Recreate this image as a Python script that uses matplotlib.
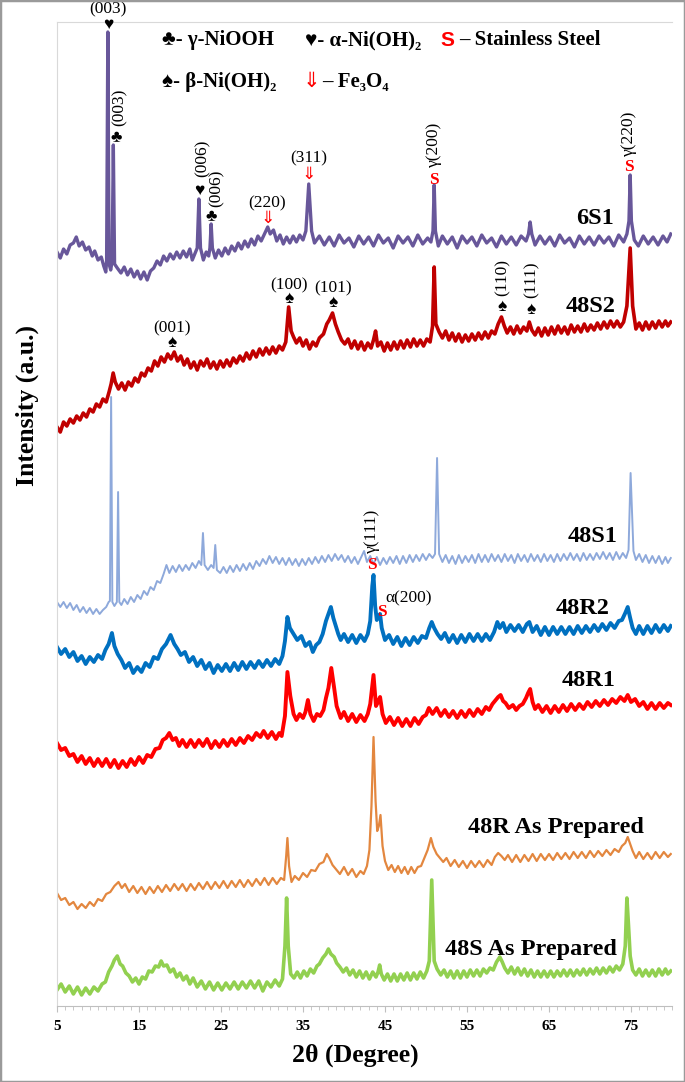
import matplotlib.pyplot as plt
from matplotlib.patches import Rectangle
from matplotlib.ticker import MultipleLocator

plt.rcParams['font.family'] = ['Liberation Serif', 'DejaVu Sans']

# (2theta in deg, stacked intensity in a.u.)
pts_6s1 = [
    (5.0, 754), (5.4, 748), (5.8, 757), (6.2, 752), (6.6, 761), (7.0, 763), (7.35, 769), (7.7, 760), (8.1, 764),
    (8.5, 756), (8.9, 759), (9.3, 750), (9.6, 755), (10.0, 746), (10.4, 749), (10.7, 740), (10.95, 734),
    (11.05, 745), (11.2, 974), (11.35, 742), (11.55, 736), (11.72, 745), (11.87, 861), (12.02, 742),
    (12.35, 738), (12.8, 733), (13.2, 739), (13.6, 731), (14.0, 737), (14.4, 729), (14.8, 735), (15.2, 727),
    (15.6, 734), (16.0, 726), (16.4, 735), (16.8, 738), (17.2, 745), (17.6, 741), (18.0, 750), (18.4, 745),
    (18.8, 752), (19.2, 747), (19.6, 754), (20.0, 748), (20.4, 755), (20.8, 749), (21.2, 757), (21.5, 746),
    (21.8, 752), (22.1, 758), (22.3, 807), (22.5, 758), (22.85, 746), (23.2, 754), (23.5, 750), (23.65, 758),
    (23.8, 782), (23.95, 758), (24.3, 748), (24.7, 756), (25.1, 750), (25.5, 758), (25.9, 752), (26.3, 760),
    (26.7, 755), (27.1, 763), (27.5, 757), (27.9, 765), (28.3, 759), (28.7, 767), (29.1, 761), (29.5, 770),
    (29.9, 765), (30.3, 772), (30.7, 779), (31.0, 772), (31.4, 776), (31.8, 765), (32.2, 771), (32.6, 762),
    (33.0, 769), (33.4, 763), (33.8, 770), (34.2, 764), (34.6, 771), (35.0, 766), (35.35, 775), (35.7, 822),
    (36.05, 775), (36.4, 763), (37.0, 770), (37.6, 761), (38.2, 769), (38.8, 760), (39.4, 771), (40.0, 763),
    (40.6, 768), (41.2, 759), (41.8, 770), (42.4, 762), (43.0, 769), (43.6, 760), (44.2, 771), (44.8, 763),
    (45.4, 768), (46.0, 758), (46.6, 770), (47.2, 763), (47.8, 769), (48.4, 760), (49.0, 771), (49.6, 762),
    (50.2, 768), (50.6, 764), (50.85, 775), (51.0, 821), (51.15, 775), (51.5, 760), (52.0, 770), (52.6, 762),
    (53.2, 769), (53.8, 758), (54.4, 770), (55.0, 763), (55.6, 769), (56.2, 760), (56.8, 771), (57.4, 763),
    (58.0, 768), (58.6, 759), (59.2, 770), (59.8, 762), (60.4, 769), (61.0, 761), (61.6, 770), (62.2, 765),
    (62.5, 772), (62.7, 784), (62.9, 772), (63.3, 761), (63.9, 770), (64.5, 762), (65.1, 769), (65.7, 760),
    (66.3, 771), (66.9, 763), (67.5, 768), (68.1, 759), (68.7, 770), (69.3, 762), (69.9, 769), (70.5, 761),
    (71.1, 770), (71.7, 763), (72.3, 769), (72.9, 760), (73.5, 771), (74.1, 764), (74.5, 772), (74.75, 785),
    (74.9, 831), (75.05, 785), (75.4, 766), (75.9, 760), (76.5, 770), (77.1, 762), (77.7, 769), (78.3, 761),
    (78.9, 770), (79.4, 764), (79.85, 772)]

pts_48s2 = [
    (5.0, 579), (5.4, 574), (5.8, 584), (6.2, 580), (6.6, 587), (7.0, 583), (7.4, 590), (7.8, 586), (8.2, 593),
    (8.6, 589), (9.0, 597), (9.4, 594), (9.8, 602), (10.2, 599), (10.6, 607), (11.0, 604), (11.35, 614),
    (11.6, 622), (11.85, 633), (12.1, 624), (12.5, 617), (12.9, 623), (13.3, 616), (13.7, 624), (14.1, 620),
    (14.5, 628), (14.9, 624), (15.3, 633), (15.7, 630), (16.1, 638), (16.5, 635), (16.9, 645), (17.3, 640),
    (17.7, 649), (18.1, 644), (18.5, 652), (18.9, 647), (19.3, 654), (19.7, 645), (20.1, 650), (20.5, 641),
    (20.9, 647), (21.3, 638), (21.7, 644), (22.1, 636), (22.5, 645), (22.9, 640), (23.3, 647), (23.7, 638),
    (24.1, 644), (24.5, 637), (24.9, 645), (25.3, 639), (25.7, 646), (26.1, 640), (26.5, 648), (26.9, 643),
    (27.3, 650), (27.7, 645), (28.1, 653), (28.5, 647), (28.9, 655), (29.3, 649), (29.7, 657), (30.1, 651),
    (30.5, 658), (30.9, 652), (31.3, 659), (31.7, 653), (32.1, 660), (32.5, 656), (32.9, 664), (33.25, 699),
    (33.55, 675), (33.85, 669), (34.2, 663), (34.6, 668), (35.0, 660), (35.4, 666), (35.8, 657), (36.2, 664),
    (36.6, 660), (37.0, 668), (37.5, 672), (37.9, 682), (38.2, 686), (38.6, 693), (38.95, 682), (39.3, 674),
    (39.7, 666), (40.1, 662), (40.5, 667), (40.9, 658), (41.3, 665), (41.7, 657), (42.1, 664), (42.5, 656),
    (42.9, 663), (43.3, 658), (43.6, 666), (43.85, 675), (44.1, 660), (44.5, 664), (44.9, 655), (45.3, 663),
    (45.7, 656), (46.1, 664), (46.5, 657), (46.9, 665), (47.3, 658), (47.7, 666), (48.1, 659), (48.5, 667),
    (48.9, 660), (49.3, 666), (49.7, 660), (50.1, 667), (50.5, 664), (50.8, 680), (51.0, 739), (51.2, 682),
    (51.6, 674), (52.0, 668), (52.4, 675), (52.8, 666), (53.2, 673), (53.6, 665), (54.0, 672), (54.4, 664),
    (54.8, 671), (55.2, 665), (55.6, 672), (56.0, 666), (56.4, 673), (56.8, 667), (57.2, 674), (57.6, 668),
    (58.0, 675), (58.4, 672), (58.8, 682), (59.2, 689), (59.55, 680), (59.9, 673), (60.3, 679), (60.7, 672),
    (61.1, 680), (61.5, 673), (61.9, 679), (62.3, 675), (62.6, 684), (62.9, 676), (63.3, 671), (63.7, 678),
    (64.1, 670), (64.5, 678), (64.9, 671), (65.3, 679), (65.7, 672), (66.1, 680), (66.5, 673), (66.9, 679),
    (67.3, 672), (67.7, 681), (68.1, 674), (68.5, 680), (68.9, 674), (69.3, 682), (69.7, 675), (70.1, 681),
    (70.5, 676), (70.9, 683), (71.3, 677), (71.7, 684), (72.1, 678), (72.5, 685), (72.9, 679), (73.3, 685),
    (73.7, 679), (74.1, 684), (74.5, 700), (74.9, 758), (75.2, 700), (75.6, 677), (76.0, 683), (76.4, 676),
    (76.8, 684), (77.2, 677), (77.6, 684), (78.0, 678), (78.4, 685), (78.8, 679), (79.2, 685), (79.5, 680),
    (79.85, 684)]

pts_48s1 = [
    (5.0, 404), (5.4, 399), (5.8, 404), (6.2, 398), (6.6, 403), (7.0, 396), (7.4, 401), (7.8, 394), (8.2, 399),
    (8.6, 393), (9.0, 398), (9.4, 392), (9.8, 397), (10.2, 392), (10.6, 396), (11.0, 399), (11.3, 404),
    (11.45, 405), (11.6, 609), (11.75, 404), (12.0, 400), (12.3, 404), (12.45, 514), (12.6, 404), (12.85, 401),
    (13.2, 407), (13.6, 402), (14.0, 409), (14.4, 404), (14.8, 411), (15.2, 407), (15.6, 415), (16.0, 411),
    (16.4, 419), (16.8, 416), (17.2, 425), (17.6, 423), (18.0, 432), (18.35, 441), (18.7, 433), (19.1, 440),
    (19.5, 434), (19.9, 441), (20.3, 435), (20.7, 441), (21.1, 436), (21.5, 443), (21.9, 438), (22.3, 445),
    (22.6, 441), (22.8, 473), (23.0, 441), (23.4, 436), (23.8, 441), (24.1, 438), (24.3, 461), (24.5, 436),
    (24.9, 433), (25.3, 439), (25.7, 433), (26.1, 440), (26.5, 434), (26.9, 441), (27.3, 435), (27.7, 442),
    (28.1, 436), (28.5, 443), (28.9, 437), (29.3, 445), (29.7, 440), (30.1, 447), (30.5, 442), (30.9, 450),
    (31.3, 443), (31.7, 449), (32.1, 442), (32.5, 448), (32.9, 441), (33.3, 448), (33.7, 441), (34.1, 447),
    (34.5, 440), (34.9, 447), (35.3, 441), (35.7, 448), (36.1, 442), (36.5, 449), (36.9, 443), (37.3, 450),
    (37.7, 444), (38.1, 451), (38.5, 445), (38.9, 452), (39.3, 446), (39.7, 451), (40.1, 444), (40.5, 450),
    (40.9, 443), (41.3, 449), (41.7, 442), (42.1, 449), (42.45, 455), (42.8, 444), (43.2, 450), (43.6, 442),
    (44.0, 449), (44.4, 441), (44.8, 448), (45.2, 442), (45.6, 449), (46.0, 443), (46.4, 450), (46.8, 442),
    (47.2, 450), (47.6, 443), (48.0, 451), (48.4, 444), (48.8, 451), (49.2, 445), (49.6, 452), (50.0, 446),
    (50.4, 452), (50.8, 448), (51.1, 452), (51.35, 548), (51.6, 452), (52.0, 444), (52.4, 451), (52.8, 443),
    (53.2, 450), (53.6, 442), (54.0, 451), (54.4, 443), (54.8, 450), (55.2, 444), (55.6, 451), (56.0, 443),
    (56.4, 452), (56.8, 444), (57.2, 451), (57.6, 444), (58.0, 452), (58.4, 445), (58.8, 451), (59.2, 444),
    (59.6, 452), (60.0, 445), (60.4, 451), (60.8, 443), (61.2, 452), (61.6, 445), (62.0, 451), (62.4, 444),
    (62.8, 452), (63.2, 445), (63.6, 451), (64.0, 444), (64.4, 452), (64.8, 445), (65.2, 451), (65.6, 444),
    (66.0, 452), (66.4, 445), (66.8, 452), (67.2, 446), (67.6, 453), (68.0, 446), (68.4, 452), (68.8, 445),
    (69.2, 453), (69.6, 446), (70.0, 452), (70.4, 446), (70.8, 453), (71.2, 447), (71.6, 454), (72.0, 447),
    (72.4, 453), (72.8, 446), (73.2, 454), (73.6, 447), (74.0, 453), (74.4, 448), (74.7, 456), (74.95, 533),
    (75.1, 500), (75.3, 455), (75.6, 446), (76.0, 452), (76.4, 444), (76.8, 451), (77.2, 443), (77.6, 450),
    (78.0, 443), (78.4, 450), (78.8, 442), (79.2, 449), (79.5, 443), (79.85, 448)]

pts_48r2 = [
    (5.0, 359), (5.5, 352), (6.0, 357), (6.5, 349), (7.0, 354), (7.5, 345), (8.0, 350), (8.5, 342), (9.0, 349),
    (9.5, 344), (10.0, 351), (10.5, 347), (10.9, 356), (11.3, 362), (11.7, 373), (12.0, 360), (12.4, 352),
    (12.85, 346), (13.3, 338), (13.8, 343), (14.3, 333), (14.8, 339), (15.3, 334), (15.8, 343), (16.3, 339),
    (16.8, 349), (17.3, 347), (17.8, 357), (18.3, 362), (18.85, 371), (19.3, 362), (19.7, 357), (20.1, 351),
    (20.6, 354), (21.1, 344), (21.6, 349), (22.1, 340), (22.6, 346), (23.1, 337), (23.6, 343), (24.1, 333),
    (24.6, 341), (25.1, 335), (25.6, 342), (26.1, 335), (26.6, 343), (27.1, 336), (27.6, 344), (28.1, 337),
    (28.6, 344), (29.1, 338), (29.6, 345), (30.1, 339), (30.6, 346), (31.1, 340), (31.6, 347), (32.1, 342),
    (32.5, 350), (32.8, 365), (33.1, 389), (33.4, 378), (33.85, 372), (34.3, 366), (34.8, 370), (35.3, 360),
    (35.8, 364), (36.2, 354), (36.6, 361), (37.0, 364), (37.4, 372), (37.8, 385), (38.1, 392), (38.4, 399),
    (38.7, 388), (39.0, 380), (39.3, 372), (39.6, 366), (40.0, 372), (40.5, 364), (41.0, 371), (41.5, 363),
    (42.0, 371), (42.5, 365), (42.9, 372), (43.2, 385), (43.45, 420), (43.6, 431), (43.8, 400), (44.0, 386),
    (44.2, 390), (44.4, 392), (44.6, 378), (45.0, 366), (45.5, 371), (46.0, 362), (46.5, 369), (47.0, 360),
    (47.5, 368), (48.0, 361), (48.5, 369), (49.0, 363), (49.5, 370), (50.0, 368), (50.4, 378), (50.7, 384),
    (51.0, 378), (51.4, 372), (51.85, 367), (52.3, 373), (52.8, 364), (53.3, 371), (53.8, 363), (54.3, 371),
    (54.8, 364), (55.3, 372), (55.8, 365), (56.3, 372), (56.8, 365), (57.3, 372), (57.8, 366), (58.3, 374),
    (58.7, 384), (59.0, 378), (59.4, 383), (59.8, 374), (60.3, 381), (60.8, 375), (61.3, 381), (61.8, 374),
    (62.3, 382), (62.6, 384), (63.0, 374), (63.5, 380), (64.0, 371), (64.5, 379), (65.0, 371), (65.5, 379),
    (66.0, 372), (66.5, 379), (67.0, 372), (67.5, 379), (68.0, 372), (68.5, 380), (69.0, 373), (69.5, 380),
    (70.0, 374), (70.5, 381), (71.0, 375), (71.5, 382), (72.0, 376), (72.5, 383), (73.0, 378), (73.5, 385),
    (73.9, 386), (74.3, 393), (74.6, 399), (74.9, 388), (75.2, 378), (75.6, 372), (76.0, 380), (76.5, 372),
    (77.0, 380), (77.5, 373), (78.0, 381), (78.5, 374), (79.0, 381), (79.5, 375), (79.85, 380)]

pts_48r1 = [
    (5.0, 263), (5.5, 256), (6.0, 258), (6.5, 250), (7.0, 252), (7.5, 244), (8.0, 250), (8.5, 242), (9.0, 248),
    (9.5, 240), (10.0, 247), (10.5, 240), (11.0, 247), (11.5, 239), (12.0, 246), (12.5, 238), (13.0, 245),
    (13.5, 239), (14.0, 247), (14.5, 241), (15.0, 249), (15.5, 243), (16.0, 251), (16.5, 249), (17.0, 257),
    (17.5, 258), (17.9, 266), (18.3, 268), (18.7, 273), (19.1, 266), (19.5, 268), (19.9, 260), (20.3, 266),
    (20.8, 259), (21.3, 266), (21.8, 259), (22.3, 266), (22.8, 260), (23.3, 267), (23.8, 258), (24.3, 265),
    (24.8, 259), (25.3, 266), (25.8, 260), (26.3, 267), (26.8, 261), (27.3, 268), (27.8, 263), (28.3, 270),
    (28.8, 266), (29.3, 273), (29.8, 269), (30.2, 275), (30.7, 268), (31.2, 274), (31.7, 267), (32.1, 273),
    (32.4, 270), (32.8, 290), (33.1, 334), (33.45, 310), (33.85, 292), (34.2, 286), (34.6, 292), (35.0, 288),
    (35.3, 294), (35.6, 306), (35.9, 292), (36.3, 285), (36.7, 292), (37.1, 290), (37.5, 296), (37.8, 308),
    (38.1, 318), (38.45, 338), (38.8, 318), (39.1, 300), (39.6, 288), (40.0, 294), (40.5, 285), (41.0, 292),
    (41.5, 284), (42.0, 291), (42.5, 285), (42.9, 292), (43.2, 302), (43.6, 331), (43.9, 300), (44.15, 304),
    (44.4, 309), (44.7, 292), (45.1, 283), (45.6, 289), (46.1, 281), (46.6, 288), (47.1, 280), (47.6, 287),
    (48.1, 280), (48.6, 288), (49.1, 282), (49.6, 289), (50.0, 291), (50.35, 298), (50.8, 292), (51.3, 298),
    (51.8, 290), (52.3, 296), (52.8, 289), (53.3, 295), (53.8, 288), (54.3, 295), (54.8, 289), (55.3, 296),
    (55.8, 290), (56.3, 297), (56.8, 292), (57.3, 299), (57.7, 296), (58.1, 302), (58.5, 306), (58.8, 309),
    (59.1, 311), (59.4, 305), (59.7, 303), (60.1, 298), (60.6, 301), (61.0, 296), (61.4, 300), (61.8, 302),
    (62.2, 308), (62.45, 313), (62.7, 317), (63.0, 304), (63.3, 297), (63.7, 301), (64.2, 294), (64.7, 300),
    (65.2, 293), (65.7, 300), (66.2, 294), (66.7, 301), (67.2, 295), (67.7, 302), (68.2, 296), (68.7, 302),
    (69.2, 297), (69.7, 304), (70.2, 299), (70.7, 305), (71.2, 300), (71.7, 306), (72.2, 301), (72.7, 307),
    (73.2, 303), (73.7, 309), (74.2, 305), (74.6, 311), (75.0, 304), (75.5, 307), (76.0, 300), (76.5, 304),
    (77.0, 297), (77.5, 303), (78.0, 297), (78.5, 303), (79.0, 298), (79.5, 303), (79.85, 301)]

pts_48r_ap = [
    (5.0, 113), (5.5, 106), (6.0, 108), (6.5, 101), (7.0, 104), (7.5, 97), (8.0, 102), (8.5, 98), (9.0, 104),
    (9.5, 100), (10.0, 107), (10.5, 105), (11.0, 112), (11.5, 114), (12.0, 120), (12.5, 124), (12.9, 118),
    (13.3, 122), (13.8, 114), (14.3, 120), (14.8, 113), (15.3, 119), (15.8, 112), (16.3, 119), (16.8, 113),
    (17.3, 120), (17.8, 114), (18.3, 121), (18.8, 115), (19.3, 122), (19.8, 116), (20.3, 122), (20.8, 115),
    (21.3, 122), (21.8, 116), (22.3, 123), (22.8, 117), (23.3, 124), (23.8, 117), (24.3, 124), (24.8, 118),
    (25.3, 125), (25.8, 118), (26.3, 125), (26.8, 119), (27.3, 126), (27.8, 119), (28.3, 126), (28.8, 120),
    (29.3, 127), (29.8, 121), (30.3, 128), (30.8, 121), (31.3, 128), (31.8, 122), (32.3, 128), (32.7, 126),
    (32.95, 150), (33.1, 168), (33.3, 140), (33.6, 124), (34.0, 130), (34.5, 126), (35.0, 133), (35.5, 129),
    (36.0, 136), (36.5, 135), (37.0, 142), (37.5, 144), (37.9, 152), (38.2, 148), (38.6, 141), (39.0, 137),
    (39.5, 132), (40.0, 139), (40.5, 131), (41.0, 137), (41.5, 129), (42.0, 135), (42.4, 132), (42.8, 140),
    (43.1, 156), (43.35, 200), (43.6, 269), (43.85, 205), (44.05, 175), (44.25, 180), (44.45, 191), (44.7, 160),
    (45.0, 145), (45.4, 136), (45.8, 141), (46.2, 134), (46.6, 140), (47.0, 133), (47.4, 139), (47.8, 132),
    (48.2, 139), (48.6, 133), (49.0, 139), (49.4, 140), (49.8, 148), (50.2, 156), (50.6, 168), (50.9, 159),
    (51.3, 152), (51.7, 148), (52.1, 144), (52.5, 148), (53.0, 140), (53.5, 146), (54.0, 139), (54.5, 145),
    (55.0, 138), (55.5, 145), (56.0, 139), (56.5, 145), (57.0, 139), (57.5, 146), (58.0, 141), (58.4, 149),
    (58.8, 153), (59.2, 150), (59.6, 146), (60.0, 151), (60.5, 144), (61.0, 151), (61.5, 144), (62.0, 151),
    (62.5, 145), (63.0, 152), (63.5, 145), (64.0, 152), (64.5, 146), (65.0, 152), (65.5, 146), (66.0, 153),
    (66.5, 147), (67.0, 153), (67.5, 147), (68.0, 154), (68.5, 148), (69.0, 154), (69.5, 148), (70.0, 155),
    (70.5, 149), (71.0, 155), (71.5, 150), (72.0, 156), (72.5, 151), (73.0, 157), (73.5, 154), (73.9, 160),
    (74.3, 163), (74.6, 169), (74.9, 162), (75.2, 155), (75.6, 148), (76.0, 154), (76.5, 147), (77.0, 153),
    (77.5, 147), (78.0, 154), (78.5, 148), (79.0, 154), (79.5, 149), (79.85, 152)]

pts_48s_ap = [
    (5.0, 16), (5.5, 22), (6.0, 14), (6.5, 20), (7.0, 12), (7.5, 19), (8.0, 11), (8.5, 18), (9.0, 12), (9.5, 19),
    (10.0, 15), (10.5, 22), (10.9, 24), (11.3, 34), (11.7, 40), (12.0, 46), (12.35, 50), (12.7, 42), (13.0, 40),
    (13.4, 33), (13.8, 30), (14.2, 24), (14.6, 28), (15.0, 22), (15.4, 29), (15.8, 27), (16.2, 35), (16.6, 34),
    (17.0, 40), (17.4, 39), (17.7, 45), (18.0, 40), (18.4, 41), (18.8, 34), (19.2, 37), (19.6, 29), (20.0, 33),
    (20.4, 26), (20.8, 30), (21.2, 22), (21.6, 28), (22.1, 19), (22.6, 25), (23.1, 17), (23.6, 24), (24.1, 16),
    (24.6, 23), (25.1, 16), (25.6, 23), (26.1, 17), (26.6, 24), (27.1, 17), (27.6, 24), (28.1, 18), (28.6, 25),
    (29.1, 18), (29.6, 25), (30.1, 15), (30.6, 24), (31.1, 19), (31.6, 26), (32.1, 20), (32.5, 27), (32.8, 60),
    (33.0, 108), (33.2, 60), (33.5, 32), (33.9, 28), (34.3, 34), (34.7, 28), (35.1, 35), (35.5, 30), (35.9, 37),
    (36.3, 33), (36.7, 40), (37.0, 42), (37.4, 48), (37.8, 52), (38.1, 57), (38.4, 52), (38.8, 49), (39.1, 43),
    (39.5, 39), (39.9, 34), (40.3, 38), (40.7, 31), (41.1, 36), (41.5, 29), (41.9, 35), (42.3, 28), (42.7, 34),
    (43.1, 27), (43.5, 34), (43.9, 29), (44.15, 34), (44.35, 41), (44.55, 32), (44.9, 26), (45.3, 32), (45.7, 25),
    (46.1, 32), (46.5, 25), (46.9, 32), (47.3, 26), (47.7, 33), (48.1, 26), (48.5, 33), (48.9, 27), (49.3, 34),
    (49.7, 28), (50.1, 35), (50.4, 45), (50.7, 126), (51.0, 45), (51.35, 37), (51.8, 31), (52.2, 36), (52.6, 29),
    (53.0, 35), (53.4, 28), (53.8, 35), (54.2, 28), (54.6, 35), (55.0, 29), (55.4, 36), (55.8, 30), (56.2, 36),
    (56.6, 30), (57.0, 37), (57.4, 33), (57.8, 38), (58.2, 36), (58.6, 44), (59.0, 49), (59.3, 44), (59.6, 38),
    (60.0, 33), (60.4, 39), (60.8, 32), (61.2, 38), (61.6, 31), (62.0, 37), (62.4, 30), (62.8, 36), (63.2, 29),
    (63.6, 35), (64.0, 29), (64.4, 35), (64.8, 29), (65.2, 35), (65.6, 29), (66.0, 35), (66.4, 30), (66.8, 36),
    (67.2, 30), (67.6, 36), (68.0, 30), (68.4, 36), (68.8, 31), (69.2, 37), (69.6, 31), (70.0, 37), (70.4, 32),
    (70.8, 38), (71.2, 32), (71.6, 38), (72.0, 33), (72.4, 39), (72.8, 34), (73.2, 40), (73.6, 36), (74.0, 42),
    (74.3, 60), (74.5, 108), (74.7, 80), (74.9, 50), (75.2, 36), (75.6, 31), (76.0, 37), (76.4, 30), (76.8, 36),
    (77.2, 30), (77.6, 36), (78.0, 30), (78.4, 37), (78.8, 31), (79.2, 37), (79.5, 32), (79.85, 35)]

# name, points, colour, line width, label x, label y
traces = [
    ('6S1', pts_6s1, '#68579A', 2.4, 70.6, 788),
    ('48S2', pts_48s2, '#C00000', 2.6, 70.1, 699),
    ('48S1', pts_48s1, '#8EA9DB', 1.4, 70.35, 469),
    ('48R2', pts_48r2, '#0070C0', 2.8, 69.1, 398),
    ('48R1', pts_48r1, '#FF0000', 2.8, 69.85, 326),
    ('48R As Prepared', pts_48r_ap, '#E3873F', 1.6, 65.85, 179),
    ('48S As Prepared', pts_48s_ap, '#92D050', 2.6, 62.85, 56),
]

fig = plt.figure(figsize=(6.85, 10.82), dpi=100)
ax = fig.add_axes([57 / 685, 76 / 1082, 615 / 685, 984 / 1082])

for name, pts, col, lw, lx, ly in traces:
    xs = [p[0] for p in pts]
    ys = [p[1] for p in pts]
    ax.plot(xs, ys, color=col, lw=lw)
    ax.text(lx, ly, name, fontsize=17.5, fontweight='bold', ha='center', va='center')

ax.set_xlim(5, 80)
ax.set_ylim(0, 984)
ax.set_xticks(range(5, 80, 10))
ax.xaxis.set_minor_locator(MultipleLocator(1))
ax.tick_params(axis='x', which='both', direction='out', color='#bfbfbf', labelsize=11, pad=6)
ax.tick_params(axis='x', which='major', length=4)
ax.tick_params(axis='x', which='minor', length=3)
for lab in ax.get_xticklabels():
    lab.set_fontweight('bold')
ax.set_yticks([])
ax.spines['right'].set_visible(False)
ax.spines['top'].set_color('#d9d9d9')
ax.spines['left'].set_color('#d9d9d9')
ax.spines['bottom'].set_color('#bfbfbf')

fig.text(355 / 685, 1 - 1055 / 1082, '2θ (Degree)', fontsize=18.5, fontweight='bold', ha='center', va='center')
fig.text(27 / 685, 1 - 405 / 1082, 'Intensity (a.u.)', fontsize=18.5, fontweight='bold', rotation=90,
         ha='center', va='center')

# phase legend
leg = dict(fontsize=15, fontweight='bold', ha='left', va='center', clip_on=False)
ax.text(17.8, 966, '♣- γ-NiOOH', **leg)
ax.text(35.2, 966, '♥- α-Ni(OH)₂', **leg)
ax.text(51.8, 966, 'S', color='red', family='Liberation Sans', fontsize=15, fontweight='bold',
        ha='left', va='center')
ax.text(54.0, 966, '– Stainless Steel', **leg)
ax.text(17.8, 924, '♠- β-Ni(OH)₂', **leg)
ax.text(34.9, 924, '⇓', color='red', fontsize=15, ha='left', va='center')
ax.text(37.3, 924, '– Fe₃O₄', **leg)

# peak annotations: (x, y, text, rotation, colour, size, weight)
notes = [
    (11.2, 997, '(003)', 0, 'black', 12.5, 'normal'),
    (11.2, 981, '♥', 0, 'black', 12.5, 'normal'),
    (12.7, 899, '(003)', 90, 'black', 12.5, 'normal'),
    (12.2, 868, '♣', 0, 'black', 12.5, 'normal'),
    (22.3, 815, '♥', 0, 'black', 12.5, 'normal'),
    (22.75, 848, '(006)', 90, 'black', 12.5, 'normal'),
    (23.8, 789, '♣', 0, 'black', 12.5, 'normal'),
    (24.5, 818, '(006)', 90, 'black', 12.5, 'normal'),
    (30.6, 803, '(220)', 0, 'black', 12.5, 'normal'),
    (30.7, 787, '⇓', 0, 'red', 12.5, 'normal'),
    (35.7, 848, '(311)', 0, 'black', 12.5, 'normal'),
    (35.7, 831, '⇓', 0, 'red', 12.5, 'normal'),
    (51.0, 862, 'γ(200)', 90, 'black', 12.5, 'normal'),
    (51.0, 826, 'S', 0, 'red', 12.5, 'bold'),
    (74.8, 873, 'γ(220)', 90, 'black', 12.5, 'normal'),
    (74.8, 839, 'S', 0, 'red', 12.5, 'bold'),
    (33.25, 721, '(100)', 0, 'black', 12.5, 'normal'),
    (33.25, 707, '♠', 0, 'black', 12.5, 'normal'),
    (38.7, 718, '(101)', 0, 'black', 12.5, 'normal'),
    (38.7, 703, '♠', 0, 'black', 12.5, 'normal'),
    (59.35, 729, '(110)', 90, 'black', 12.5, 'normal'),
    (59.3, 699, '♠', 0, 'black', 12.5, 'normal'),
    (62.85, 726, '(111)', 90, 'black', 12.5, 'normal'),
    (62.85, 696, '♠', 0, 'black', 12.5, 'normal'),
    (19.0, 678, '(001)', 0, 'black', 12.5, 'normal'),
    (19.0, 663, '♠', 0, 'black', 12.5, 'normal'),
    (43.4, 475, 'γ(111)', 90, 'black', 12.5, 'normal'),
    (43.4, 441, 'S', 0, 'red', 12.5, 'bold'),
    (47.9, 408, 'α(200)', 0, 'black', 12.5, 'normal'),
    (44.6, 394, 'S', 0, 'red', 12.5, 'bold'),
]
for nx, ny, txt, rot, col, fs, fw in notes:
    ax.text(nx, ny, txt, rotation=rot, color=col, fontsize=fs, fontweight=fw,
            ha='center', va='center', clip_on=False)

fig.patches.append(Rectangle((0, 0), 1, 1, transform=fig.transFigure, fill=False,
                             edgecolor='#9a9a9a', lw=2.5))

fig.savefig('out.png', dpi=100)
